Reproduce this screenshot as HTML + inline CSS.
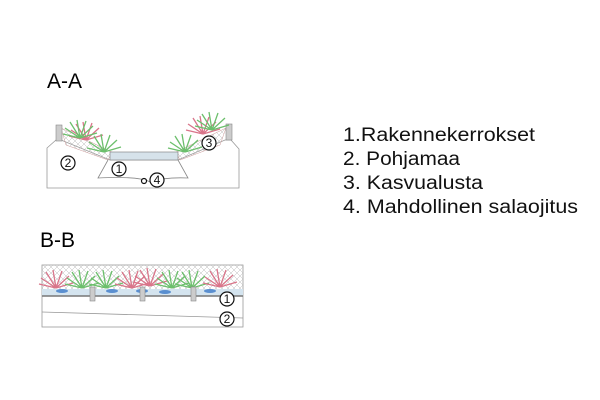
<!DOCTYPE html>
<html><head><meta charset="utf-8"><style>
html,body{margin:0;padding:0;background:#fff;width:600px;height:400px;overflow:hidden}
svg{display:block}
text{font-family:"Liberation Sans",sans-serif}
</style></head><body>
<svg width="600" height="400" viewBox="0 0 600 400">
<defs>
<pattern id="h" width="6" height="6" patternUnits="userSpaceOnUse"><path d="M0 6L6 0M0 0L6 6" stroke="#bbb" stroke-width="0.5"/></pattern>
<g id="pg" stroke="#6cbf6c" stroke-width="1.3" fill="none"><path d="M0 0L-15 -10M0 0L-10 -16M0 0L-3 -18M0 0L6 -17M0 0L13 -12M0 0L17 -5M0 0L-17 -4"/></g>
<g id="pr" stroke="#d9758a" stroke-width="1.3" fill="none"><path d="M0 0L-15 -10M0 0L-10 -16M0 0L-3 -18M0 0L6 -17M0 0L13 -12M0 0L17 -5M0 0L-17 -4"/></g>
</defs>
<text x="47" y="88" font-size="21">A-A</text>
<text x="40" y="247" font-size="21">B-B</text>
<g font-size="19" fill="#111">
<text x="343" y="141" textLength="192" lengthAdjust="spacingAndGlyphs">1.Rakennekerrokset</text>
<text x="343" y="165" textLength="117" lengthAdjust="spacingAndGlyphs">2. Pohjamaa</text>
<text x="343" y="189" textLength="140" lengthAdjust="spacingAndGlyphs">3. Kasvualusta</text>
<text x="343" y="213" textLength="235" lengthAdjust="spacingAndGlyphs">4. Mahdollinen salaojitus</text>
</g>
<!-- A-A -->
<path d="M47 148 L56 140 L61 140 L110 160 L178 160 L225 140 L231 140 L239 149 L239 188 L47 188 Z" fill="#fff" stroke="#999" stroke-width="0.8"/>
<path d="M61 128 L112 152 L108 160 L66 145 Z" fill="url(#h)" stroke="#c99" stroke-width="0.5"/>
<path d="M226 128 L176 152 L180 160 L220 145 Z" fill="url(#h)" stroke="#c99" stroke-width="0.5"/>
<rect x="56" y="125" width="6" height="16" fill="#ccc" stroke="#888" stroke-width="0.6"/>
<rect x="226" y="124" width="6" height="16" fill="#ccc" stroke="#888" stroke-width="0.6"/>
<rect x="110" y="152" width="68" height="8" fill="#d6e2ea" stroke="#888" stroke-width="0.7"/>
<path d="M108 160 L98 178 Q140 176 150 182 Q165 177 188 178 L178 160" fill="none" stroke="#888" stroke-width="0.8"/>
<use href="#pr" x="86" y="140"/><use href="#pg" x="80" y="138"/><use href="#pg" x="104" y="152"/>
<use href="#pg" x="185" y="152"/><use href="#pr" x="203" y="134"/><use href="#pg" x="212" y="130"/>
<g fill="#fff" stroke="#111" stroke-width="1.2"><circle cx="68" cy="163" r="7"/><circle cx="119" cy="169" r="7"/><circle cx="209" cy="143" r="7"/><circle cx="157" cy="180" r="7"/><circle cx="144" cy="181" r="2.5"/></g>
<g font-size="12" text-anchor="middle" fill="#111"><text x="68" y="167">2</text><text x="119" y="173">1</text><text x="209" y="147">3</text><text x="157" y="184">4</text></g>
<!-- B-B -->
<rect x="42" y="265" width="201" height="62" fill="#fff" stroke="#999" stroke-width="0.8"/>
<rect x="42" y="265" width="201" height="25" fill="url(#h)"/>
<rect x="42" y="289" width="201" height="7" fill="#d4e4ef"/>
<line x1="42" y1="296" x2="243" y2="296" stroke="#777" stroke-width="1.5"/>
<path d="M42 312 L243 318" stroke="#999" stroke-width="0.8"/>
<g fill="#5a8fd0"><ellipse cx="62" cy="291" rx="6" ry="2"/><ellipse cx="112" cy="291" rx="6" ry="2"/><ellipse cx="142" cy="291" rx="6" ry="2"/><ellipse cx="165" cy="292" rx="6" ry="2"/><ellipse cx="210" cy="291" rx="6" ry="2"/></g>
<use href="#pr" x="56" y="288"/><use href="#pg" x="82" y="288"/><use href="#pg" x="106" y="288"/><use href="#pr" x="132" y="288"/><use href="#pr" x="150" y="286"/><use href="#pg" x="172" y="288"/><use href="#pg" x="192" y="288"/><use href="#pr" x="220" y="287"/>
<g fill="#ccc" stroke="#888" stroke-width="0.6"><rect x="90" y="287" width="5" height="14"/><rect x="140" y="287" width="5" height="14"/><rect x="191" y="287" width="5" height="14"/></g>
<g fill="#fff" stroke="#111" stroke-width="1.2"><circle cx="227" cy="299" r="7"/><circle cx="227" cy="319" r="7"/></g>
<g font-size="12" text-anchor="middle" fill="#111"><text x="227" y="303">1</text><text x="227" y="323">2</text></g>
</svg>
</body></html>
